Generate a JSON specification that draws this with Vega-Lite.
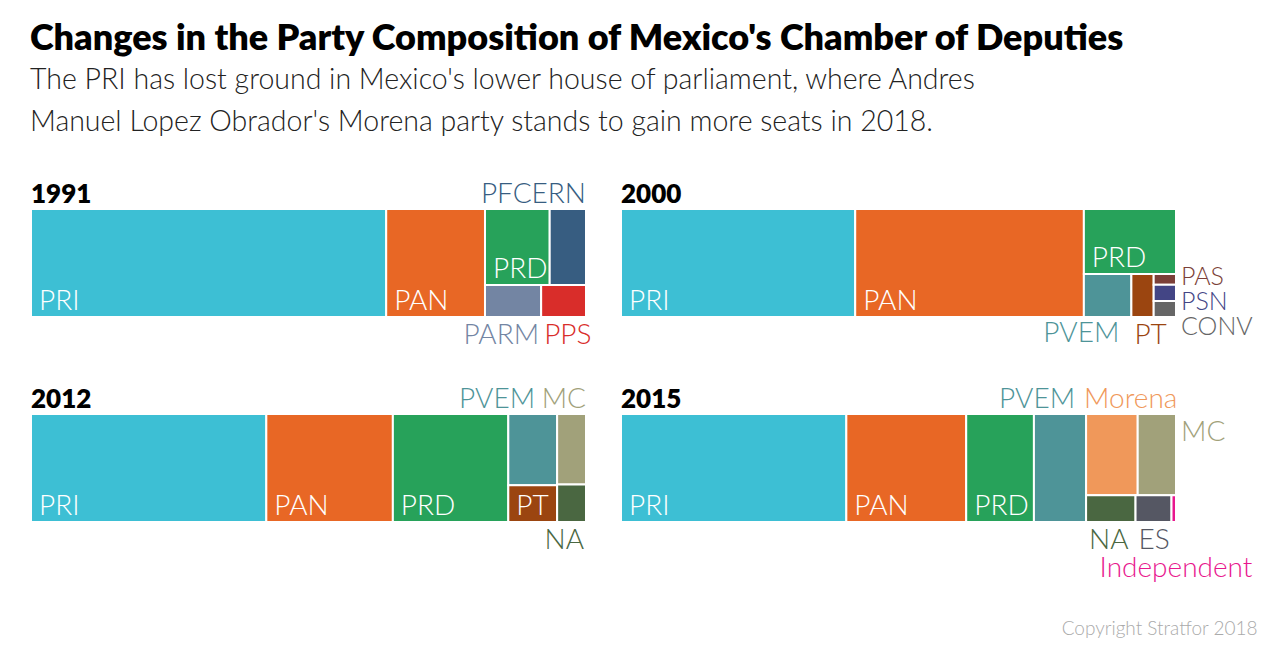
{
  "$schema": "https://vega.github.io/schema/vega-lite/v6.json",
  "padding": {"left": 30, "top": 20, "right": 10, "bottom": 10},
  "background": "white",
  "config": {"view": {"stroke": null}, "font": "Lato", "concat": {"spacing": 0}, "header": {"labels": false, "title": null, "labelFontSize": 0, "labelPadding": 0}},
  "title": {
    "text": "Changes in the Party Composition of Mexico's Chamber of Deputies",
    "subtitle": ["The PRI has lost ground in Mexico's lower house of parliament, where Andres", "Manuel Lopez Obrador's Morena party stands to gain more seats in 2018."],
    "anchor": "start",
    "font": "Lato", "fontSize": 36, "fontWeight": 800, "color": "#000000",
    "subtitleFont": "Lato", "subtitleFontSize": 28.5, "subtitleFontWeight": 300, "subtitleColor": "#222222",
    "subtitleLineHeight": 42, "subtitlePadding": 8, "offset": 44
  },
  "vconcat": [
    {
      "data": {"values": [
        {"year": "1991", "party": "PRI", "seats": 320, "x0": 0, "x1": 320, "y0": 0, "y1": 1, "lab": "in"},
        {"year": "1991", "party": "PAN", "seats": 89, "x0": 320, "x1": 409, "y0": 0, "y1": 1, "lab": "in"},
        {"year": "1991", "party": "PRD", "seats": 41, "x0": 409, "x1": 467.3, "y0": 0.2967, "y1": 1, "lab": "in"},
        {"year": "1991", "party": "PFCERN", "seats": 23, "x0": 467.3, "x1": 500, "y0": 0.2967, "y1": 1, "lab": "ar"},
        {"year": "1991", "party": "PARM", "seats": 15, "x0": 409, "x1": 459.6, "y0": 0, "y1": 0.2967, "lab": "br"},
        {"year": "1991", "party": "PPS", "seats": 12, "x0": 459.6, "x1": 500, "y0": 0, "y1": 0.2967, "lab": "bl"},
        {"year": "2000", "party": "PRI", "seats": 211, "x0": 0, "x1": 211, "y0": 0, "y1": 1, "lab": "in"},
        {"year": "2000", "party": "PAN", "seats": 206, "x0": 211, "x1": 417, "y0": 0, "y1": 1, "lab": "in"},
        {"year": "2000", "party": "PRD", "seats": 50, "x0": 417, "x1": 500, "y0": 0.3976, "y1": 1, "lab": "in"},
        {"year": "2000", "party": "PVEM", "seats": 17, "x0": 417, "x1": 459.8, "y0": 0, "y1": 0.3976, "lab": "br10"},
        {"year": "2000", "party": "PT", "seats": 8, "x0": 459.8, "x1": 479.9, "y0": 0, "y1": 0.3976, "lab": "bl"},
        {"year": "2000", "party": "PAS", "seats": 2, "x0": 479.9, "x1": 500, "y0": 0.2982, "y1": 0.3976, "lab": "r1"},
        {"year": "2000", "party": "PSN", "seats": 3, "x0": 479.9, "x1": 500, "y0": 0.1491, "y1": 0.2982, "lab": "r2"},
        {"year": "2000", "party": "CONV", "seats": 3, "x0": 479.9, "x1": 500, "y0": 0, "y1": 0.1491, "lab": "r3"},
        {"year": "2012", "party": "PRI", "seats": 212, "x0": 0, "x1": 212, "y0": 0, "y1": 1, "lab": "in"},
        {"year": "2012", "party": "PAN", "seats": 114, "x0": 212, "x1": 326, "y0": 0, "y1": 1, "lab": "in"},
        {"year": "2012", "party": "PRD", "seats": 104, "x0": 326, "x1": 430, "y0": 0, "y1": 1, "lab": "in"},
        {"year": "2012", "party": "PVEM", "seats": 29, "x0": 430, "x1": 474, "y0": 0.3409, "y1": 1, "lab": "ar20"},
        {"year": "2012", "party": "PT", "seats": 15, "x0": 430, "x1": 474, "y0": 0, "y1": 0.3409, "lab": "in"},
        {"year": "2012", "party": "MC", "seats": 17, "x0": 474, "x1": 500, "y0": 0.3462, "y1": 1, "lab": "ar"},
        {"year": "2012", "party": "NA", "seats": 9, "x0": 474, "x1": 500, "y0": 0, "y1": 0.3462, "lab": "br"},
        {"year": "2015", "party": "PRI", "seats": 203, "x0": 0, "x1": 203, "y0": 0, "y1": 1, "lab": "in"},
        {"year": "2015", "party": "PAN", "seats": 108, "x0": 203, "x1": 311, "y0": 0, "y1": 1, "lab": "in"},
        {"year": "2015", "party": "PRD", "seats": 61, "x0": 311, "x1": 372, "y0": 0, "y1": 1, "lab": "in"},
        {"year": "2015", "party": "PVEM", "seats": 47, "x0": 372, "x1": 419, "y0": 0, "y1": 1, "lab": "ar10"},
        {"year": "2015", "party": "Morena", "seats": 35, "x0": 419, "x1": 465.5, "y0": 0.2469, "y1": 1, "lab": "al"},
        {"year": "2015", "party": "MC", "seats": 26, "x0": 465.5, "x1": 500, "y0": 0.2469, "y1": 1, "lab": "rt"},
        {"year": "2015", "party": "NA", "seats": 11, "x0": 419, "x1": 463.55, "y0": 0, "y1": 0.2469, "lab": "bl"},
        {"year": "2015", "party": "ES", "seats": 8, "x0": 463.55, "x1": 495.95, "y0": 0, "y1": 0.2469, "lab": "bl"},
        {"year": "2015", "party": "Independent", "seats": 1, "x0": 495.95, "x1": 500, "y0": 0, "y1": 0.2469, "lab": "b2c"}
      ]},
      "facet": {"field": "year", "type": "nominal", "header": {"labels": false, "title": null, "labelFontSize": 0, "labelPadding": 0, "labelExpr": "''"}},
      "columns": 2,
      "spacing": {"row": 97, "column": 35},
      "bounds": "flush",
      "title": {"text": "Copyright Stratfor 2018", "orient": "bottom", "anchor": "end", "font": "Lato", "fontSize": 19, "fontWeight": 300, "color": "#aaaaaa", "offset": 37, "dx": 5},
      "spec": {
        "width": 555,
        "height": 108,
        "encoding": {
          "x": {"field": "x0", "type": "quantitative", "scale": {"domain": [0, 500], "nice": false, "zero": false}, "axis": null},
          "y": {"field": "y0", "type": "quantitative", "scale": {"domain": [0, 1], "nice": false}, "axis": null},
          "color": {
            "field": "party", "type": "nominal", "legend": null,
            "scale": {
              "domain": ["PRI", "PAN", "PRD", "PFCERN", "PARM", "PPS", "PVEM", "PT", "PAS", "PSN", "CONV", "MC", "NA", "Morena", "ES", "Independent"],
              "range": ["#3dbfd4", "#e86725", "#27a25a", "#375d81", "#7385a3", "#d92d2a", "#4e9498", "#9b4510", "#7b3f38", "#434585", "#666666", "#a1a17a", "#4a6741", "#f0985a", "#555763", "#e8178e"]
            }
          }
        },
        "layer": [
          {"mark": {"type": "rect", "stroke": "white", "strokeWidth": 2}, "encoding": {"x2": {"field": "x1"}, "y2": {"field": "y1"}}},
          {"transform": [{"filter": "datum.party == 'PRI'"}],
           "mark": {"type": "text", "align": "left", "baseline": "alphabetic", "dy": -6, "fontSize": 26, "fontWeight": 800},
           "encoding": {"y": {"field": "y1", "type": "quantitative"}, "text": {"field": "year"}, "color": {"value": "#000000"}}},
          {"transform": [{"filter": "datum.lab == 'in'"}],
           "mark": {"type": "text", "align": "left", "baseline": "alphabetic", "dx": 8, "dy": -7, "fontSize": 28, "fontWeight": 300},
           "encoding": {"text": {"field": "party"}, "color": {"value": "#ffffff"}}},
          {"transform": [{"filter": "datum.lab == 'ar'"}],
           "mark": {"type": "text", "align": "right", "baseline": "alphabetic", "dx": 0, "dy": -6, "fontSize": 28, "fontWeight": 300},
           "encoding": {"x": {"field": "x1", "type": "quantitative"}, "y": {"field": "y1", "type": "quantitative"}, "text": {"field": "party"}}},
          {"transform": [{"filter": "datum.lab == 'ar10'"}],
           "mark": {"type": "text", "align": "right", "baseline": "alphabetic", "dx": -11, "dy": -6, "fontSize": 28, "fontWeight": 300},
           "encoding": {"x": {"field": "x1", "type": "quantitative"}, "y": {"field": "y1", "type": "quantitative"}, "text": {"field": "party"}}},
          {"transform": [{"filter": "datum.lab == 'ar20'"}],
           "mark": {"type": "text", "align": "right", "baseline": "alphabetic", "dx": -22, "dy": -6, "fontSize": 28, "fontWeight": 300},
           "encoding": {"x": {"field": "x1", "type": "quantitative"}, "y": {"field": "y1", "type": "quantitative"}, "text": {"field": "party"}}},
          {"transform": [{"filter": "datum.lab == 'al'"}],
           "mark": {"type": "text", "align": "left", "baseline": "alphabetic", "dx": -2, "dy": -6, "fontSize": 28, "fontWeight": 300},
           "encoding": {"y": {"field": "y1", "type": "quantitative"}, "text": {"field": "party"}}},
          {"transform": [{"filter": "datum.lab == 'br'"}],
           "mark": {"type": "text", "align": "right", "baseline": "alphabetic", "dx": -2, "dy": 27, "fontSize": 28, "fontWeight": 300},
           "encoding": {"x": {"field": "x1", "type": "quantitative"}, "text": {"field": "party"}}},
          {"transform": [{"filter": "datum.lab == 'br10'"}],
           "mark": {"type": "text", "align": "right", "baseline": "alphabetic", "dx": -12, "dy": 25, "fontSize": 28, "fontWeight": 300},
           "encoding": {"x": {"field": "x1", "type": "quantitative"}, "text": {"field": "party"}}},
          {"transform": [{"filter": "datum.lab == 'bl'"}],
           "mark": {"type": "text", "align": "left", "baseline": "alphabetic", "dx": 3, "dy": 27, "fontSize": 28, "fontWeight": 300},
           "encoding": {"text": {"field": "party"}}},
          {"transform": [{"filter": "datum.lab == 'r1'"}],
           "mark": {"type": "text", "align": "left", "baseline": "alphabetic", "dx": 5, "dy": 0, "fontSize": 25, "fontWeight": 300},
           "encoding": {"x": {"field": "x1", "type": "quantitative"}, "text": {"field": "party"}}},
          {"transform": [{"filter": "datum.lab == 'r2'"}],
           "mark": {"type": "text", "align": "left", "baseline": "alphabetic", "dx": 5, "dy": 9, "fontSize": 25, "fontWeight": 300},
           "encoding": {"x": {"field": "x1", "type": "quantitative"}, "text": {"field": "party"}}},
          {"transform": [{"filter": "datum.lab == 'r3'"}],
           "mark": {"type": "text", "align": "left", "baseline": "alphabetic", "dx": 5, "dy": 18, "fontSize": 25, "fontWeight": 300},
           "encoding": {"x": {"field": "x1", "type": "quantitative"}, "text": {"field": "party"}}},
          {"transform": [{"filter": "datum.lab == 'rt'"}],
           "mark": {"type": "text", "align": "left", "baseline": "alphabetic", "dx": 5, "dy": 27, "fontSize": 28, "fontWeight": 300},
           "encoding": {"x": {"field": "x1", "type": "quantitative"}, "y": {"field": "y1", "type": "quantitative"}, "text": {"field": "party"}}},
          {"transform": [{"filter": "datum.lab == 'b2c'"}],
           "mark": {"type": "text", "align": "center", "baseline": "alphabetic", "dx": 0, "dy": 55, "fontSize": 28, "fontWeight": 300},
           "encoding": {"x": {"field": "x1", "type": "quantitative"}, "text": {"field": "party"}}}
        ]
      }
    }
  ]
}
